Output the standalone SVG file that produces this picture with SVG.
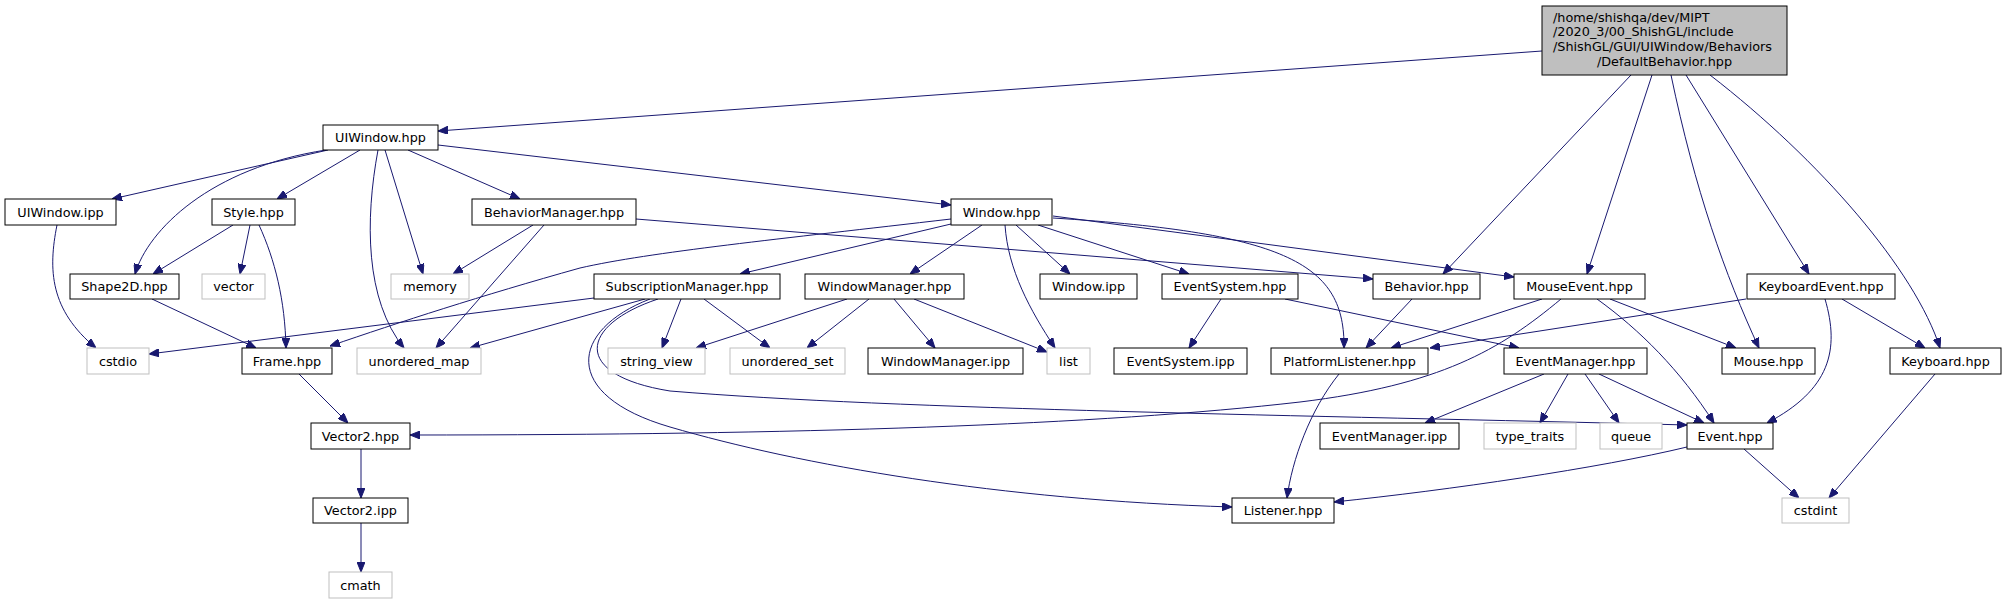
<svg xmlns="http://www.w3.org/2000/svg" width="2007" height="604" viewBox="0 0 2007 604">
<style>
text{font-family:"DejaVu Sans","Liberation Sans",sans-serif;font-size:12.8px;fill:#000;text-anchor:middle}
.n rect{fill:#fff;stroke:#000;stroke-width:1}
.g rect{fill:#fff;stroke:#bfbfbf;stroke-width:1}
.r rect{fill:#bfbfbf;stroke:#000;stroke-width:1}
.e path{fill:none;stroke:#191970;stroke-width:1;marker-end:url(#ah)}
</style>
<defs>
<marker id="ah" markerWidth="10" markerHeight="8" refX="10" refY="4" orient="auto" markerUnits="userSpaceOnUse">
<path d="M0,0 L10,4 L0,8 z" fill="#191970" stroke="#191970" stroke-width="1"/>
</marker>
</defs>
<rect width="2007" height="604" fill="#fff"/>
<g id="edges" class="e">
<path d="M1542,51 L438,131"/>
<path d="M1631,75 L1443,274"/>
<path d="M1652,75 L1587,274"/>
<path d="M1671,75 C1695,190 1725,275 1759,348"/>
<path d="M1686,75 L1809,274"/>
<path d="M1710,75 C1820,160 1915,270 1940,348"/>
<path d="M328,150 L112,199"/>
<path d="M326,150 C210,168 148,230 135,274"/>
<path d="M360,150 L277,199"/>
<path d="M385,150 L423,274"/>
<path d="M378,150 C365,220 365,300 404,348"/>
<path d="M408,150 L520,199"/>
<path d="M438,145 L951,205"/>
<path d="M233,225 L153,274"/>
<path d="M250,225 L240,274"/>
<path d="M259,225 C275,260 285,300 286,348"/>
<path d="M57,225 C48,270 50,310 96,348"/>
<path d="M152,299 L256,348"/>
<path d="M533,225 L453,274"/>
<path d="M544,225 L436,348"/>
<path d="M636,219 L1373,279"/>
<path d="M951,219 C780,239 650,252 580,268 C480,296 400,322 330,346"/>
<path d="M951,224 L740,274"/>
<path d="M982,225 L910,274"/>
<path d="M1005,225 C1008,270 1030,310 1055,348"/>
<path d="M1016,225 L1070,274"/>
<path d="M1038,225 L1189,274"/>
<path d="M1053,218 C1290,233 1345,265 1344,348"/>
<path d="M1053,216 L1514,277"/>
<path d="M594,298 L149,354"/>
<path d="M645,299 L470,348"/>
<path d="M681,299 L662,348"/>
<path d="M704,299 L770,348"/>
<path d="M650,299 C570,330 560,395 670,427 C800,465 1000,500 1232,507"/>
<path d="M658,299 C580,325 570,375 670,391 C900,410 1300,415 1687,425"/>
<path d="M847,299 L696,348"/>
<path d="M869,299 L807,348"/>
<path d="M894,299 L935,348"/>
<path d="M914,299 L1047,352"/>
<path d="M1221,299 L1189,348"/>
<path d="M1285,299 L1519,348"/>
<path d="M1412,299 L1366,348"/>
<path d="M1339,374 C1310,410 1292,460 1287,498"/>
<path d="M1542,299 L1391,348"/>
<path d="M1561,299 C1500,350 1440,385 1300,402 C1100,425 800,435 410,435"/>
<path d="M1597,299 C1640,330 1680,370 1714,423"/>
<path d="M1610,299 L1736,348"/>
<path d="M1746,299 L1430,348"/>
<path d="M1825,299 C1840,350 1830,390 1767,423"/>
<path d="M1842,299 L1925,348"/>
<path d="M1544,374 L1425,423"/>
<path d="M1568,374 L1540,423"/>
<path d="M1585,374 L1619,423"/>
<path d="M1599,374 L1704,423"/>
<path d="M1687,447 C1600,468 1450,490 1334,502"/>
<path d="M1744,449 L1799,498"/>
<path d="M1935,374 L1829,498"/>
<path d="M299,374 L348,423"/>
<path d="M361,449 L361,498"/>
<path d="M361,523 L361,572"/>
</g>
<g id="root" class="r"><rect x="1542" y="6" width="245" height="69"/>
<text x="1553" y="21.5" style="text-anchor:start">/home/shishqa/dev/MIPT</text>
<text x="1553" y="36.3" style="text-anchor:start">/2020_3/00_ShishGL/include</text>
<text x="1553" y="51" style="text-anchor:start">/ShishGL/GUI/UIWindow/Behaviors</text>
<text x="1664.5" y="65.8">/DefaultBehavior.hpp</text></g>
<g id="UIWindow_hpp" class="n"><rect x="323" y="125" width="115" height="25"/><text x="380.5" y="142">UIWindow.hpp</text></g>
<g id="UIWindow_ipp" class="n"><rect x="5" y="199" width="111" height="26"/><text x="60.5" y="216.5">UIWindow.ipp</text></g>
<g id="Style_hpp" class="n"><rect x="212" y="199" width="83" height="26"/><text x="253.5" y="216.5">Style.hpp</text></g>
<g id="BehaviorManager_hpp" class="n"><rect x="472" y="199" width="164" height="26"/><text x="554" y="216.5">BehaviorManager.hpp</text></g>
<g id="Window_hpp" class="n"><rect x="951" y="199" width="101" height="26"/><text x="1001.5" y="216.5">Window.hpp</text></g>
<g id="Shape2D_hpp" class="n"><rect x="70" y="274" width="109" height="25"/><text x="124.5" y="291">Shape2D.hpp</text></g>
<g id="vector" class="g"><rect x="202" y="274" width="63" height="25"/><text x="233.5" y="291">vector</text></g>
<g id="memory" class="g"><rect x="391" y="274" width="78" height="25"/><text x="430" y="291">memory</text></g>
<g id="SubscriptionManager_hpp" class="n"><rect x="594" y="274" width="186" height="25"/><text x="687" y="291">SubscriptionManager.hpp</text></g>
<g id="WindowManager_hpp" class="n"><rect x="805" y="274" width="159" height="25"/><text x="884.5" y="291">WindowManager.hpp</text></g>
<g id="Window_ipp" class="n"><rect x="1040" y="274" width="97" height="25"/><text x="1088.5" y="291">Window.ipp</text></g>
<g id="EventSystem_hpp" class="n"><rect x="1162" y="274" width="136" height="25"/><text x="1230" y="291">EventSystem.hpp</text></g>
<g id="Behavior_hpp" class="n"><rect x="1373" y="274" width="107" height="25"/><text x="1426.5" y="291">Behavior.hpp</text></g>
<g id="MouseEvent_hpp" class="n"><rect x="1514" y="274" width="131" height="25"/><text x="1579.5" y="291">MouseEvent.hpp</text></g>
<g id="KeyboardEvent_hpp" class="n"><rect x="1747" y="274" width="148" height="25"/><text x="1821" y="291">KeyboardEvent.hpp</text></g>
<g id="cstdio" class="g"><rect x="87" y="348" width="62" height="26"/><text x="118" y="365.5">cstdio</text></g>
<g id="Frame_hpp" class="n"><rect x="242" y="348" width="90" height="26"/><text x="287" y="365.5">Frame.hpp</text></g>
<g id="unordered_map" class="g"><rect x="357" y="348" width="124" height="26"/><text x="419" y="365.5">unordered_map</text></g>
<g id="string_view" class="g"><rect x="608" y="348" width="97" height="26"/><text x="656.5" y="365.5">string_view</text></g>
<g id="unordered_set" class="g"><rect x="730" y="348" width="115" height="26"/><text x="787.5" y="365.5">unordered_set</text></g>
<g id="WindowManager_ipp" class="n"><rect x="868" y="348" width="155" height="26"/><text x="945.5" y="365.5">WindowManager.ipp</text></g>
<g id="list" class="g"><rect x="1047" y="348" width="43" height="26"/><text x="1068.5" y="365.5">list</text></g>
<g id="EventSystem_ipp" class="n"><rect x="1114" y="348" width="133" height="26"/><text x="1180.5" y="365.5">EventSystem.ipp</text></g>
<g id="PlatformListener_hpp" class="n"><rect x="1271" y="348" width="157" height="26"/><text x="1349.5" y="365.5">PlatformListener.hpp</text></g>
<g id="EventManager_hpp" class="n"><rect x="1504" y="348" width="143" height="26"/><text x="1575.5" y="365.5">EventManager.hpp</text></g>
<g id="Mouse_hpp" class="n"><rect x="1722" y="348" width="93" height="26"/><text x="1768.5" y="365.5">Mouse.hpp</text></g>
<g id="Keyboard_hpp" class="n"><rect x="1890" y="348" width="111" height="26"/><text x="1945.5" y="365.5">Keyboard.hpp</text></g>
<g id="Vector2_hpp" class="n"><rect x="311" y="423" width="99" height="26"/><text x="360.5" y="440.5">Vector2.hpp</text></g>
<g id="EventManager_ipp" class="n"><rect x="1320" y="423" width="139" height="26"/><text x="1389.5" y="440.5">EventManager.ipp</text></g>
<g id="type_traits" class="g"><rect x="1484" y="423" width="92" height="26"/><text x="1530" y="440.5">type_traits</text></g>
<g id="queue" class="g"><rect x="1600" y="423" width="62" height="26"/><text x="1631" y="440.5">queue</text></g>
<g id="Event_hpp" class="n"><rect x="1687" y="423" width="86" height="26"/><text x="1730" y="440.5">Event.hpp</text></g>
<g id="Vector2_ipp" class="n"><rect x="313" y="498" width="95" height="25"/><text x="360.5" y="515">Vector2.ipp</text></g>
<g id="Listener_hpp" class="n"><rect x="1232" y="498" width="102" height="25"/><text x="1283" y="515">Listener.hpp</text></g>
<g id="cstdint" class="g"><rect x="1782" y="498" width="67" height="25"/><text x="1815.5" y="515">cstdint</text></g>
<g id="cmath" class="g"><rect x="329" y="572" width="63" height="26"/><text x="360.5" y="589.5">cmath</text></g>
</svg>
